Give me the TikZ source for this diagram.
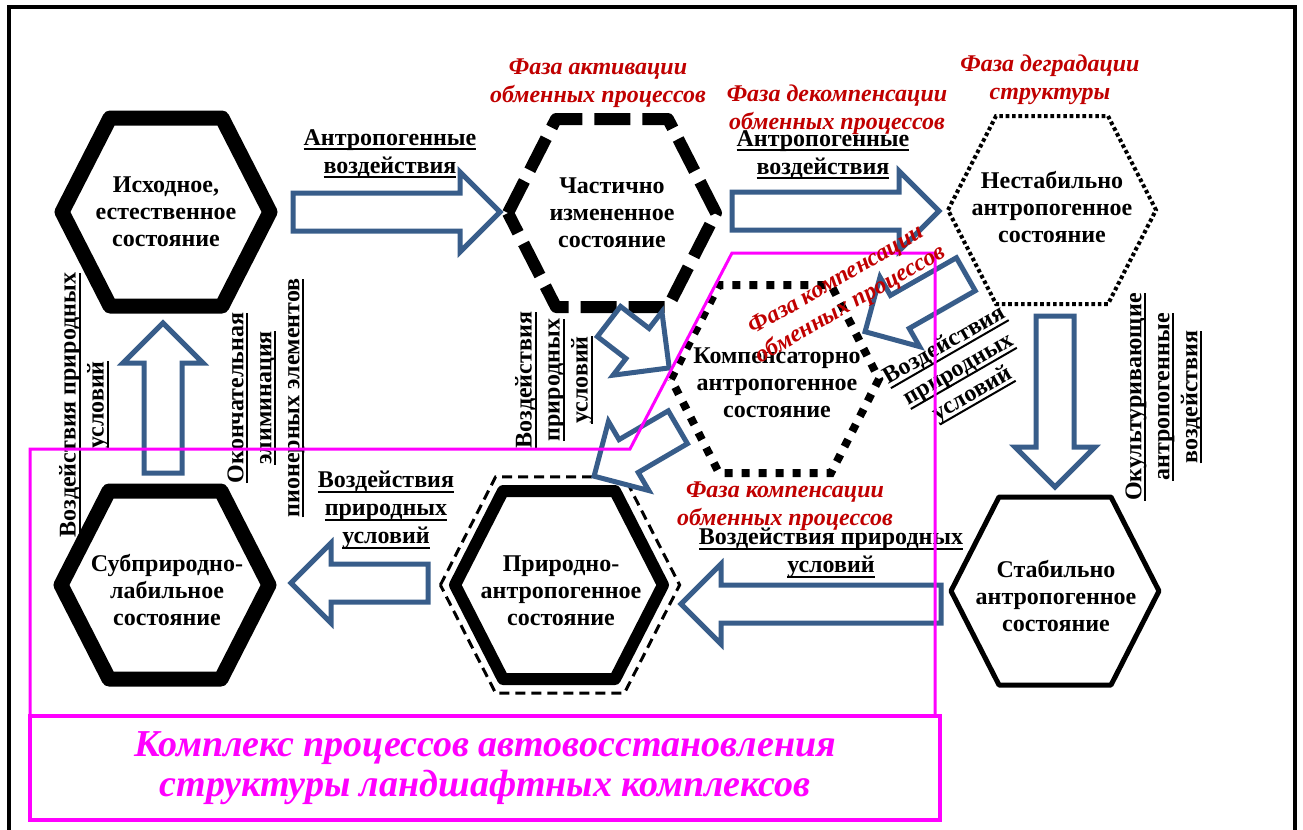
\documentclass[tikz,border=0pt]{standalone}
\usepackage{fontspec}
\setmainfont{Liberation Serif}
\usetikzlibrary{shapes.arrows}
\definecolor{arrowblue}{HTML}{385D8A}
\definecolor{phasered}{HTML}{C00000}
\definecolor{zonepink}{HTML}{FF00FF}
\newcommand{\undl}[1]{\setbox0=\hbox{#1}\rlap{\vrule width\wd0 height-1.5pt depth2.5pt}\box0}
\tikzset{hexa/.pic={\path[pic actions] (-104,0) -- (-56,-94) -- (56,-94) -- (104,0) -- (56,94) -- (-56,94) -- cycle;}}

\begin{document}
\begin{tikzpicture}[x=0.5pt, y=-0.5pt,
            state/.style={align=center, inner sep=0pt, font=\fontsize{12}{13.5}\selectfont\bfseries},
            effect/.style={align=center, inner sep=0pt, font=\fontsize{12}{14}\selectfont\bfseries},
            phase/.style={align=center, inner sep=0pt, text=phasered, font=\fontsize{12}{14}\selectfont\bfseries\itshape},
            blockarrow/.style={single arrow, draw=arrowblue, fill=white, line width=2.5pt, anchor=tail,
                inner xsep=0pt, inner ysep=8.25pt, single arrow head extend=10.5pt, single arrow tip angle=90},
            heavyhex/.style={draw, line width=7.5pt, line join=round},
            midhex/.style={draw, line width=6pt, line join=round},
            dashhex/.style={draw, line width=6pt, line join=round, dash pattern=on 18pt off 6pt},
            squarehex/.style={draw, line width=4pt, dash pattern=on 4pt off 4.5pt},
            dothex/.style={draw, line width=2pt, dash pattern=on 1.8pt off 1.4pt},
            thindash/.style={draw, line width=1.5pt, dash pattern=on 5pt off 3pt},
            thinhex/.style={draw, line width=2.5pt, line join=round},
            zone/.style={draw=zonepink, line width=1.5pt},
            zonebox/.style={draw=zonepink, line width=2pt, text=zonepink, align=center,
                font=\fontsize{19}{20}\selectfont\bfseries\itshape}]
        \useasboundingbox (0,0) rectangle (1303,830);
        \draw[line width=2pt] (9,845) -- (9,7) -- (1295,7) -- (1295,845);

        % hexagons
        \pic[heavyhex] at (166,212) {hexa};
        \pic[dashhex] at (612,213) {hexa};
        \pic[dothex] at (1052,210) {hexa};
        \pic[squarehex] at (775,379) {hexa};
        \pic[heavyhex] at (165,585) {hexa};
        \pic[midhex] at (559,585) {hexa};
        \pic[thindash, scale=1.15] at (560,585) {hexa};
        \pic[thinhex] at (1055,591) {hexa};

        \node[state] (init) at (166,212) {Исходное,\\естественное\\состояние};
        \node[state] (partial) at (612,213) {Частично\\измененное\\состояние};
        \node[state] (unstable) at (1052,207) {Нестабильно\\антропогенное\\состояние};
        \node[state] (compens) at (777,383) {Компенсаторно\\антропогенное\\состояние};
        \node[state] (sublabile) at (167,590) {Субприродно-\\лабильное\\состояние};
        \node[state] (natanthr) at (561,591) {Природно-\\антропогенное\\состояние};
        \node[state] (stable) at (1056,596) {Стабильно\\антропогенное\\состояние};

        % block arrows, placed by their tails
        \node[blockarrow, minimum height=103.5pt] (arAB) at (290.5,212) {};
        \node[blockarrow, minimum height=103.5pt] (arBC) at (729.5,211) {};
        \node[blockarrow, minimum height=75pt, rotate=90] (arEA) at (163,475.5) {};
        \node[blockarrow, minimum height=68.5pt, rotate=180] (arFE) at (430.5,583) {};
        \node[blockarrow, minimum height=130pt, rotate=180] (arGF) at (943.5,604) {};
        \node[blockarrow, minimum height=85.5pt, rotate=-90] (arCG) at (1055,313.5) {};
        \node[blockarrow, minimum height=58pt, rotate=209.7] (arCD) at (968,273) {};
        \node[blockarrow, minimum height=38pt, rotate=-37.6] (arBD) at (607,320) {};
        \node[blockarrow, minimum height=48.5pt, rotate=210.3] (arDF) at (680,426) {};

        % labels of the arrows
        \node[effect] (lblAB) at (390,154) {\undl{Антропогенные}\\\undl{воздействия}};
        \node[effect] (lblBC) at (823,155) {\undl{Антропогенные}\\\undl{воздействия}};
        \node[effect] (lblFE) at (386,510) {\undl{Воздействия}\\\undl{природных}\\\undl{условий}};
        \node[effect] (lblGF) at (831,553) {\undl{Воздействия природных}\\\undl{условий}};
        \node[effect, rotate=90] (lblEA) at (84,405) {\undl{Воздействия природных}\\\undl{условий}};
        \node[effect, rotate=90] (lblelim) at (266,398) {\undl{Окончательная}\\\undl{элиминация}\\\undl{пионерных элементов}};
        \node[effect, rotate=90] (lblBD) at (554,380) {\undl{Воздействия}\\\undl{природных}\\\undl{условий}};
        \node[effect, rotate=90] (lblCG) at (1164,397) {\undl{Окультуривающие}\\\undl{антропогенные}\\\undl{воздействия}};
        \node[effect, rotate=30] (lblCD) at (959,370) {\undl{Воздействия}\\\undl{природных}\\\undl{условий}};

        % zone of autorestoration
        \draw[zone] (30,716) -- (30,449) -- (630,449) -- (732,253) -- (935,253) -- (935,716);
        \node[zonebox, minimum width=455pt, minimum height=52pt] (zonelbl) at (485,768) {Комплекс процессов автовосстановления\\структуры ландшафтных комплексов};

        % phases
        \node[phase] (ph1) at (598,83) {Фаза активации\\обменных процессов};
        \node[phase] (ph2) at (837,110) {Фаза декомпенсации\\обменных процессов};
        \node[phase] (ph3) at (1050,80) {Фаза деградации\\структуры};
        \node[phase] (ph4) at (785,506) {Фаза компенсации\\обменных процессов};
        \node[phase, rotate=30] (ph5) at (844,293) {Фаза компенсации\\обменных процессов};
\end{tikzpicture}
\end{document}
